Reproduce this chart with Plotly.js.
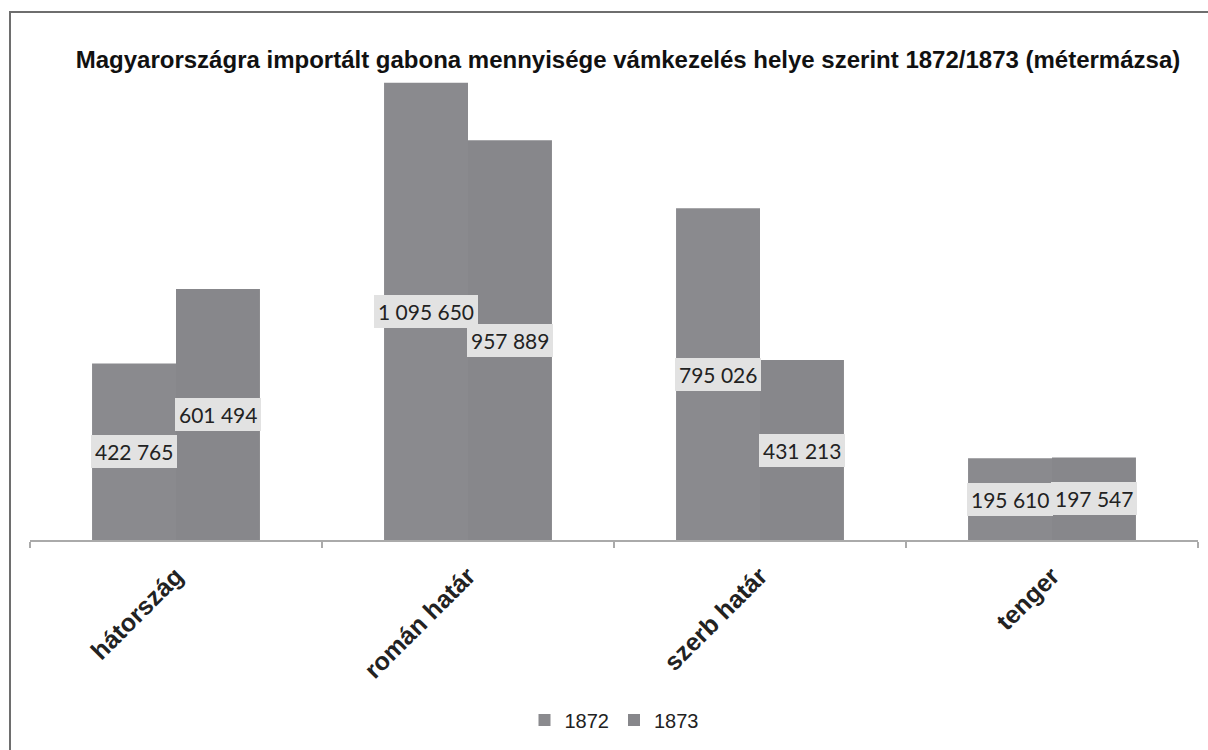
<!DOCTYPE html>
<html>
<head>
<meta charset="utf-8">
<script src="https://cdn.plot.ly/plotly-3.0.1.min.js"></script>
<style>
  html, body { margin: 0; padding: 0; background: #ffffff; width: 1208px; height: 750px; overflow: hidden; }
  #frame { position: absolute; left: 9px; top: 11px; width: 1300px; height: 900px;
           border-left: 2px solid #6e6e6e; border-top: 2px solid #6e6e6e; }
  #chart { position: absolute; left: 0; top: 0; width: 1208px; height: 750px; }
</style>
</head>
<body>
<div id="frame"></div>
<div id="chart"></div>
<script>
// ---- data ----
const categories = ["hátország", "román határ", "szerb határ", "tenger"];
const seriesNames = ["1872", "1873"];
const values1872 = [422765, 1095650, 795026, 195610];
const values1873 = [601494, 957889, 431213, 197547];
const chartTitle = "Magyarországra importált gabona mennyisége vámkezelés helye szerint 1872/1873 (métermázsa)";

// ---- styling ----
const colors = ["#8a8a8e", "#87878b"];
const FONT = "Liberation Sans, Arial, sans-serif";
const LABEL_FONT = "Lato, Open Sans, sans-serif";

function fmt(v) {
  return String(v).replace(/\B(?=(\d{3})+(?!\d))/g, " ");
}

const traces = [values1872, values1873].map((vals, i) => ({
  type: "bar",
  name: seriesNames[i],
  x: categories,
  y: vals,
  marker: { color: colors[i], line: { width: 0 } },
  hoverinfo: "skip"
}));

// data labels: centred in each bar, light boxes
const barPx = 84; // width of one bar in px
const annotations = [];
[values1872, values1873].forEach((vals, i) => {
  vals.forEach((v, j) => {
    annotations.push({
      x: categories[j], y: v / 2, xref: "x", yref: "y",
      xshift: (i === 0 ? -1 : 1) * barPx / 2,
      text: fmt(v), showarrow: false,
      font: { family: LABEL_FONT, size: 21, color: "#222222" },
      bgcolor: "#e2e2e2", borderpad: 4, borderwidth: 0,
      xanchor: "center", yanchor: "middle"
    });
  });
});

const layout = {
  width: 1208, height: 750,
  paper_bgcolor: "rgba(0,0,0,0)", plot_bgcolor: "rgba(0,0,0,0)",
  margin: { l: 30, r: 10, t: 80, b: 210 },
  title: {
    text: "<b>" + chartTitle + "</b>",
    font: { family: FONT, size: 24, color: "#111111" },
    xref: "container", yref: "container",
    x: 628 / 1208, xanchor: "center",
    y: 1 - 60 / 750, yanchor: "middle"
  },
  barmode: "group", bargap: 0.425, bargroupgap: 0,
  xaxis: {
    type: "category",
    showline: true, linecolor: "#aaaaaa", linewidth: 1.5,
    ticks: "outside", ticklen: 6, tickcolor: "#aaaaaa", tickwidth: 1.5,
    tickson: "boundaries",
    tickangle: -45,
    ticklabelstandoff: 10,
    tickfont: { family: FONT, size: 25, color: "#222222" },
    ticktext: categories.map(c => "<b>" + c + "</b>"),
    tickvals: categories,
    showgrid: false, zeroline: false, fixedrange: true
  },
  yaxis: {
    range: [0, 1102000],
    visible: false, showgrid: false, zeroline: false, fixedrange: true
  },
  showlegend: true,
  legend: {
    orientation: "h",
    xref: "container", yref: "container",
    x: 614 / 1208, xanchor: "center",
    y: 1 - 720 / 750, yanchor: "middle",
    font: { family: FONT, size: 20, color: "#222222" },
    itemwidth: 30, traceorder: "normal"
  },
  annotations: annotations
};

Plotly.newPlot("chart", traces, layout, { staticPlot: true, displayModeBar: false });
</script>
</body>
</html>
